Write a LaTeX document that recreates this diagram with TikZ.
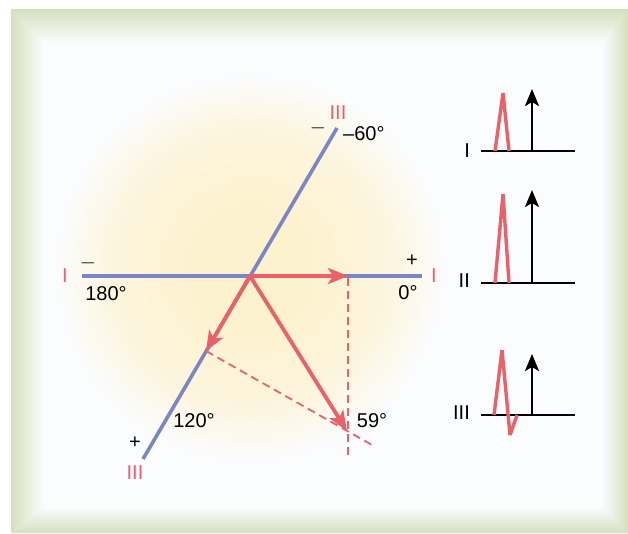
\documentclass[tikz,border=0pt]{standalone}
\usepackage{fontspec}
\setmainfont{Liberation Sans}
\usetikzlibrary{arrows.meta}
\definecolor{frameg}{RGB}{213,223,188}
\definecolor{bgc}{RGB}{251,252,254}
\definecolor{glowc}{RGB}{253,242,206}
\definecolor{leadblue}{RGB}{122,134,198}
\definecolor{vred}{RGB}{236,96,104}
\colorlet{glowmid}{glowc!65!bgc}
\pgfdeclareradialshading{glowshade}{\pgfpoint{0bp}{0bp}}{color(0bp)=(glowc); color(7bp)=(glowc); color(18bp)=(glowmid); color(25bp)=(bgc); color(50bp)=(bgc)}
\tikzset{
  axis/.style={draw=leadblue, line width=3.6pt},
  vec/.style={draw=vred, line width=3.8pt, -{Stealth[length=20pt,width=16pt,inset=5pt]}},
  proj/.style={draw=vred, line width=1.8pt, dash pattern=on 8pt off 5pt},
  lbl/.style={font=\fontsize{20}{23}\selectfont, inner sep=0pt},
  rlbl/.style={lbl, text=vred},
  base/.style={draw=black, line width=2.4pt},
  ecg/.style={draw=vred, line width=3.4pt, line join=bevel},
  qrs/.style={draw=black, line width=2.6pt, -{Stealth[length=17pt,width=14pt,inset=4pt]}}
}
\begin{document}
\begin{tikzpicture}[x=1pt,y=-1pt]
\useasboundingbox (0,0) rectangle (628,533);
% background and glow
\fill[bgc] (43,43) rectangle (602,507);
\begin{scope}
\clip (43,43) rectangle (602,507);
\shade[shading=glowshade] (250,268) circle (195pt);
\end{scope}
% bevelled frame
\shade[top color=frameg, bottom color=bgc] (11,9) -- (628,9) -- (602,43) -- (43,43) -- cycle;
\shade[top color=bgc, bottom color=frameg] (11,533) -- (628,533) -- (602,507) -- (43,507) -- cycle;
\shade[left color=frameg, right color=bgc] (11,9) -- (43,43) -- (43,507) -- (11,533) -- cycle;
\shade[left color=bgc, right color=frameg] (628,9) -- (602,43) -- (602,507) -- (628,533) -- cycle;

% axes
\coordinate (O) at (250,276);
\coordinate (IL) at (82,276);
\coordinate (IR) at (422,276);
\coordinate (IIIU) at (337,128);
\coordinate (IIID) at (143,459);
\coordinate (TipI) at (348,276);
\coordinate (TipIII) at (206,351);
\coordinate (TipR) at (347,431);
\coordinate (DashV1) at (348,278);
\coordinate (DashV2) at (348,458);
\coordinate (DashP2) at (372,445);
\draw[axis] (IL) -- (IR);
\draw[axis] (IIID) -- (IIIU);
% projections
\draw[proj] (DashV1) -- (DashV2);
\draw[proj] (TipIII) -- (DashP2);
% vectors
\draw[vec] (O) -- (TipI);
\draw[vec] (O) -- (TipIII);
\draw[vec] (O) -- (TipR);

% labels
\node[rlbl] (lIL) at (65,276) {I};
\node[rlbl] (lIR) at (434,276) {I};
\node[lbl] (mL) at (88,263) {$-$};
\node[lbl] (pR) at (412,261) {+};
\node[lbl] (d180) at (106,294) {180°};
\node[lbl] (d0) at (408,293) {0°};
\node[rlbl] (lIIIU) at (338,113) {III};
\node[lbl] (mU) at (318,128) {$-$};
\node[lbl, anchor=west] (d60) at (343,134) {–60°};
\node[lbl] (pD) at (135,443) {+};
\node[rlbl] (lIIID) at (135,473) {III};
\node[lbl] (d120) at (194,421) {120°};
\node[lbl] (d59) at (372,421) {59°};

% ECG complexes
\node[lbl, anchor=east] (eI) at (470,151) {I};
\node[lbl, anchor=east] (eII) at (470,281) {II};
\node[lbl, anchor=east] (eIII) at (470,413) {III};

\coordinate (b1a) at (481,151); \coordinate (b1b) at (575,151);
\coordinate (b2a) at (481,283); \coordinate (b2b) at (575,283);
\coordinate (b3a) at (481,415); \coordinate (b3b) at (575,415);
\draw[base] (b1a) -- (b1b);
\draw[base] (b2a) -- (b2b);
\draw[base] (b3a) -- (b3b);
\draw[ecg] (495,151) -- (503,93) -- (509,151);
\draw[ecg] (495,283) -- (503,194) -- (509,283);
\draw[ecg] (494,415) -- (502,350) -- (510,435) -- (517,415);
\coordinate (a1) at (532,151); \coordinate (a1t) at (532,89);
\coordinate (a2) at (532,283); \coordinate (a2t) at (532,190);
\coordinate (a3) at (532,415); \coordinate (a3t) at (532,354);
\draw[qrs] (a1) -- (a1t);
\draw[qrs] (a2) -- (a2t);
\draw[qrs] (a3) -- (a3t);
\end{tikzpicture}
\end{document}
